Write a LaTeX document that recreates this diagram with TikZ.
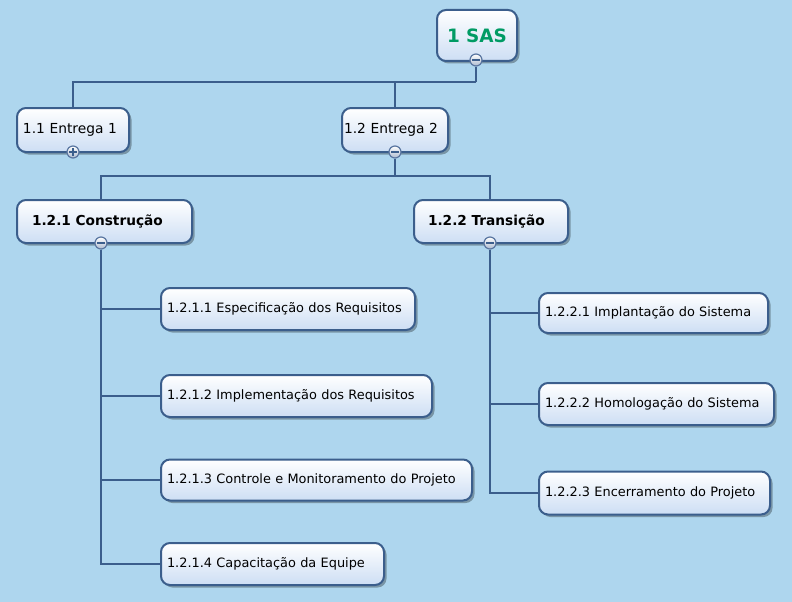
\documentclass[tikz,border=0pt]{standalone}
\usepackage{fontspec}
\setmainfont{DejaVu Sans}
\usetikzlibrary{shadows}
\definecolor{bg}{RGB}{174,214,238}
\definecolor{edgec}{RGB}{59,94,140}
\definecolor{boxbot}{RGB}{205,222,244}
\definecolor{sasgreen}{RGB}{0,155,100}
\definecolor{togc}{RGB}{90,118,160}
\begin{document}
\begin{tikzpicture}[x=1pt,y=-1pt,
  box/.style={draw=edgec, line width=2pt, rounded corners=9pt, top color=white, bottom color=boxbot,
    drop shadow={shadow xshift=2.5pt, shadow yshift=-2.5pt, opacity=0.3, fill=black},
    align=left, inner ysep=0pt, inner xsep=6pt, text=black},
  leaf/.style={box, font=\fontsize{12.9}{14}\selectfont},
  lvlone/.style={box, font=\fontsize{13.8}{16}\selectfont, minimum height=44pt},
  lvltwo/.style={box, font=\fontsize{13.7}{16}\selectfont\bfseries, minimum height=43pt},
  toproot/.style={box, font=\fontsize{18.4}{20}\selectfont\bfseries, text=sasgreen, align=center, inner xsep=7pt},
  tog/.style={circle, draw=togc, line width=1.2pt, inner sep=0pt, minimum size=12pt, top color=white, bottom color=togc!50,
    path picture={\draw[line width=2pt, edgec] ([xshift=-3.8pt]path picture bounding box.center) -- ([xshift=3.8pt]path picture bounding box.center);}},
  togplus/.style={tog, path picture={\draw[line width=2pt, edgec] ([xshift=-3.8pt]path picture bounding box.center) -- ([xshift=3.8pt]path picture bounding box.center);
    \draw[line width=2pt, edgec] ([yshift=-3.8pt]path picture bounding box.center) -- ([yshift=3.8pt]path picture bounding box.center);}},
  conn/.style={draw=edgec, line width=2pt}
]
\fill[bg] (0,0) rectangle (792,602);
\useasboundingbox (0,0) rectangle (792,602);

% boxes
\node[toproot, text width=66pt, minimum height=51pt] (sas) at (477,35.5) {1 SAS};
\node[lvlone, text width=100pt] (e1) at (73,130) {1.1 Entrega 1};
\node[lvlone, inner xsep=2pt, text width=102pt] (e2) at (395,130) {1.2 Entrega 2};
\node[lvltwo, inner xsep=15pt, text width=145pt] (c1) at (104.5,221.5) {1.2.1 Construção};
\node[lvltwo, inner xsep=14pt, text width=126pt] (c2) at (491,221.5) {1.2.2 Transição};
\node[leaf, text width=242pt, minimum height=42pt] (a1) at (288,309) {1.2.1.1 Especificação dos Requisitos};
\node[leaf, text width=259pt, minimum height=42pt] (a2) at (296.5,396) {1.2.1.2 Implementação dos Requisitos};
\node[leaf, text width=299pt, minimum height=41pt] (a3) at (316.5,480) {1.2.1.3 Controle e Monitoramento do Projeto};
\node[leaf, text width=211pt, minimum height=42pt] (a4) at (272.5,564) {1.2.1.4 Capacitação da Equipe};
\node[leaf, text width=217pt, minimum height=40pt] (b1) at (653.5,313) {1.2.2.1 Implantação do Sistema};
\node[leaf, text width=223pt, minimum height=42pt] (b2) at (656.5,404) {1.2.2.2 Homologação do Sistema};
\node[leaf, text width=219pt, minimum height=43pt] (b3) at (654.5,493) {1.2.2.3 Encerramento do Projeto};

% toggles
\node[tog] (t0) at (476,60) {};
\node[togplus] (t1) at (73,152) {};
\node[tog] (t2) at (395,152) {};
\node[tog] (t3) at (101,243) {};
\node[tog] (t4) at (490,243) {};

% junctions
\coordinate (j0) at (476,82);
\coordinate (j1) at (395,176);

% connectors
\draw[conn] (t0) -- (j0);
\draw[conn] (j0) -| (e1.north);
\draw[conn] (j0) -| (e2.north);
\draw[conn] (t2) -- (j1);
\draw[conn] (j1) -| (t3 |- c1.north);
\draw[conn] (j1) -| (t4 |- c2.north);
\draw[conn] (t3) |- (a1.west);
\draw[conn] (t3) |- (a2.west);
\draw[conn] (t3) |- (a3.west);
\draw[conn] (t3) |- (a4.west);
\draw[conn] (t4) |- (b1.west);
\draw[conn] (t4) |- (b2.west);
\draw[conn] (t4) |- (b3.west);
\end{tikzpicture}
\end{document}
